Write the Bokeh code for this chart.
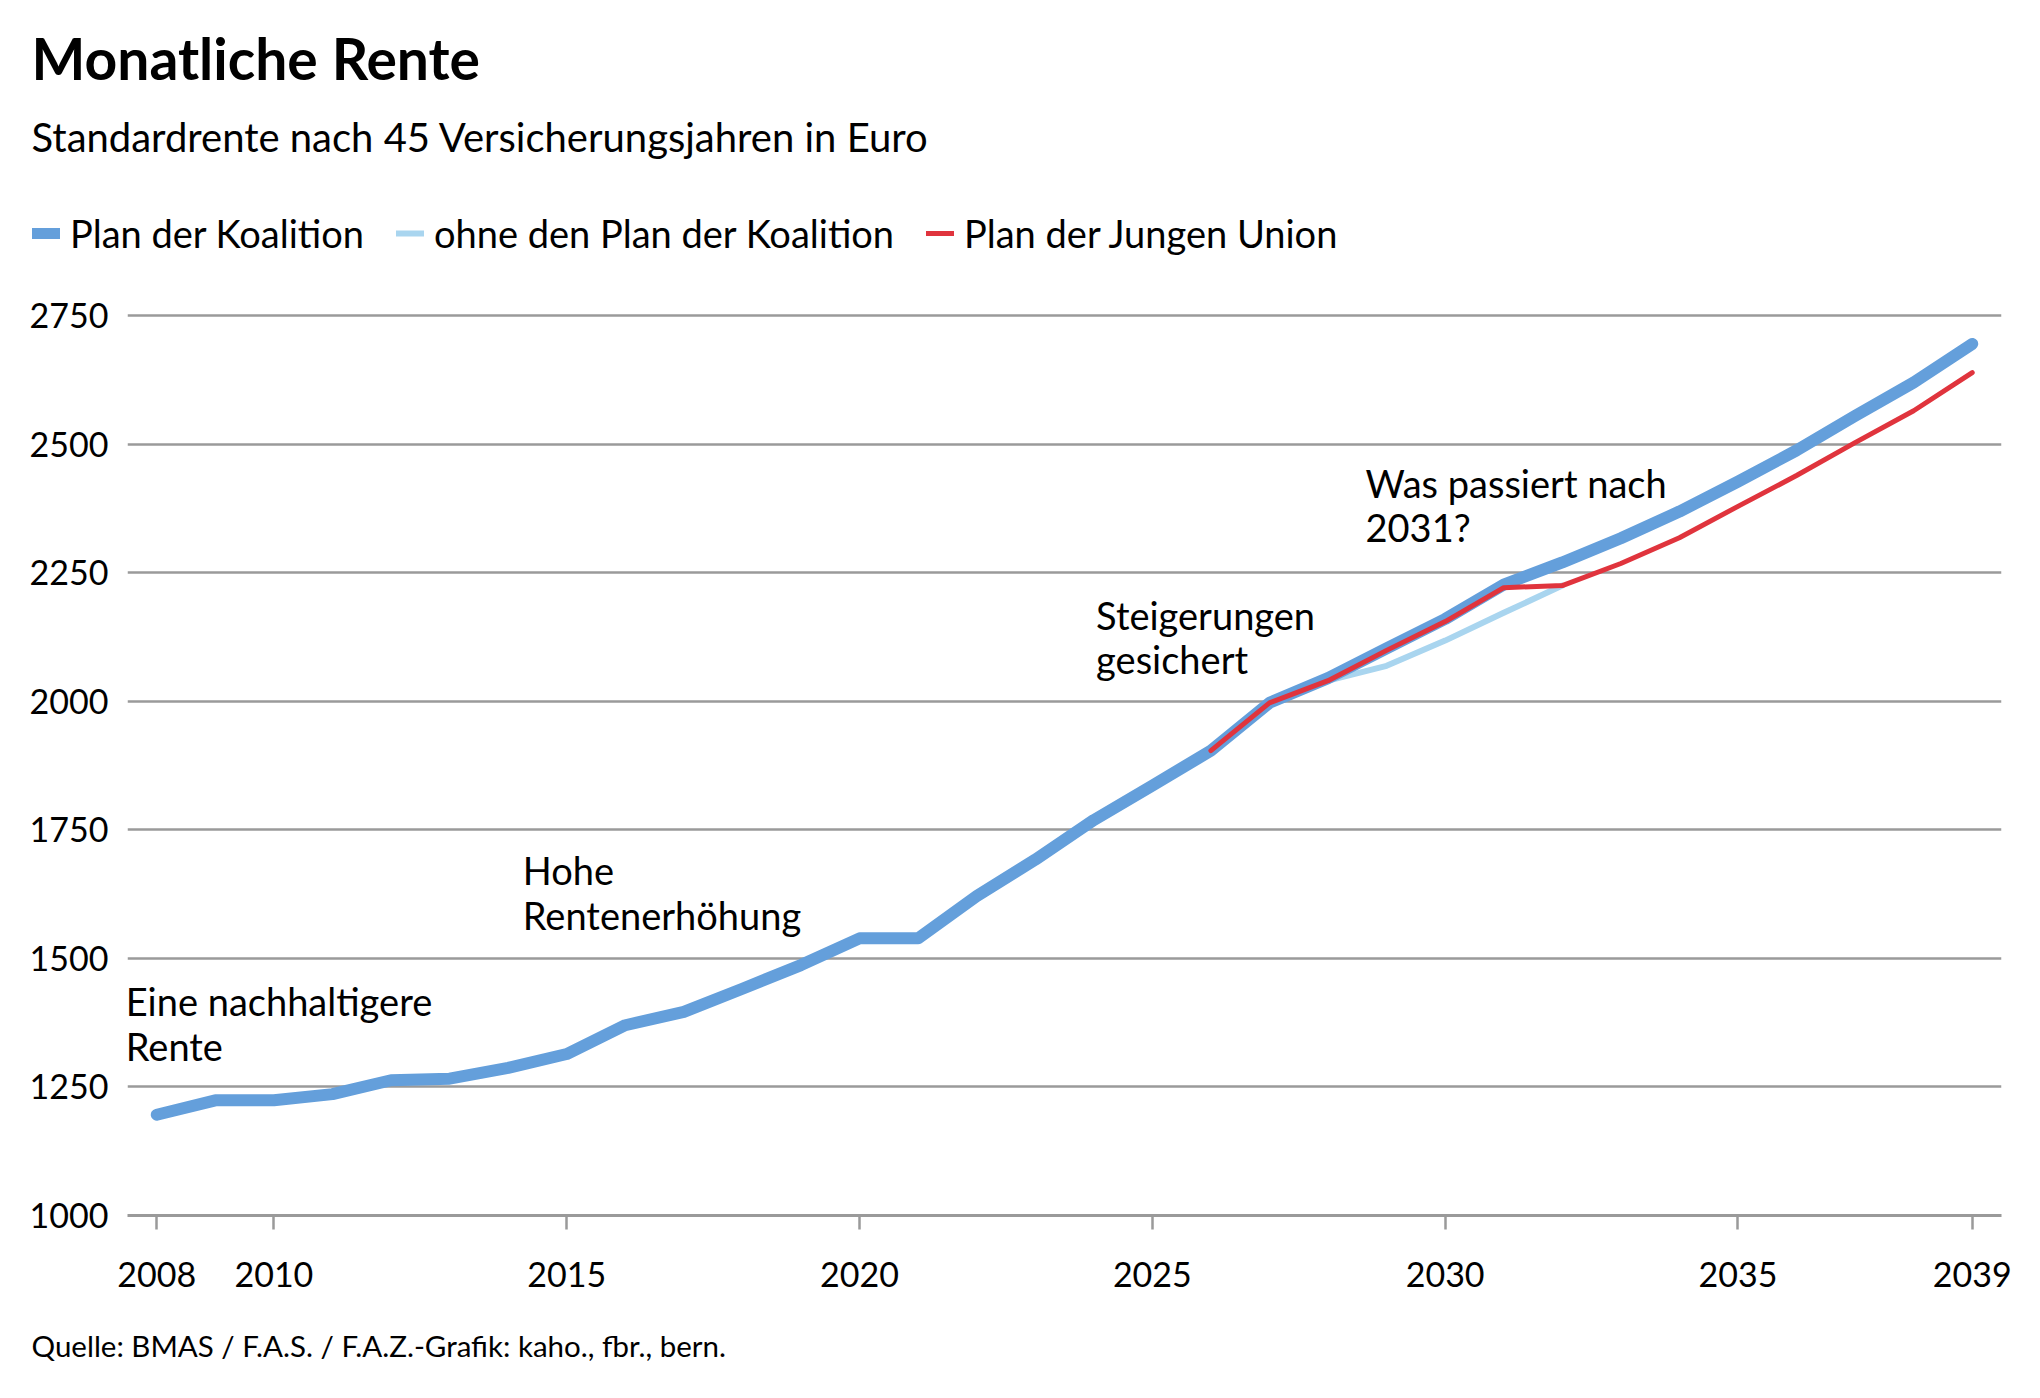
from bokeh.plotting import figure
from bokeh.models import Range1d, FixedTicker, Legend, LegendItem, ColumnDataSource, Label
from bokeh.embed import file_html
from bokeh.resources import INLINE
from bokeh.core.properties import value

# ---- data ----
years = list(range(2008, 2040))
plan_koalition = [1196, 1224, 1224, 1236, 1263, 1266, 1287, 1314, 1370, 1396,
                  1441, 1487, 1539, 1539, 1621, 1692, 1769, 1836, 1904, 1997,
                  2045, 2103, 2160, 2227, 2270, 2317, 2369, 2427, 2488, 2555,
                  2620, 2695]
ohne_years = list(range(2026, 2033))
ohne_plan = [1904, 1997, 2040, 2069, 2118, 2172, 2225]
ju_years = list(range(2026, 2040))
plan_junge_union = [1904, 1997, 2040, 2099, 2155, 2221, 2225, 2268, 2318, 2379,
                    2439, 2503, 2565, 2639]

x_ticks = [2008, 2010, 2015, 2020, 2025, 2030, 2035, 2039]
y_ticks = [1000, 1250, 1500, 1750, 2000, 2250, 2500, 2750]

note_text = ["Eine nachhaltigere", "Rente",
             "Hohe", "Rentenerhöhung",
             "Steigerungen", "gesichert",
             "Was passiert nach", "2031?"]
note_x = [2007.47, 2007.47, 2014.25, 2014.25, 2024.04, 2024.04, 2028.64, 2028.64]
note_y = [1418, 1330, 1672, 1585, 2168, 2083, 2425, 2339]

title_text = "Monatliche Rente"
subtitle_text = "Standardrente nach 45 Versicherungsjahren in Euro"
source_text = "Quelle: BMAS / F.A.S. / F.A.Z.-Grafik: kaho., fbr., bern."
legend_labels = ["Plan der Koalition", "ohne den Plan der Koalition", "Plan der Jungen Union"]

BLUE = "#649fdb"
LIGHT = "#a9d5ef"
RED = "#e0343d"
GRID = "#9a9a9a"
FONT = "Lato"
W = 2024
HEAD_H, MAIN_H, FOOT_H = 270, 1040, 72


def blank(h):
    f = figure(width=W, height=h, output_backend="svg", toolbar_location=None,
               x_range=Range1d(0, W), y_range=Range1d(h, 0),
               x_axis_location=None, y_axis_location=None, min_border=0,
               outline_line_color=None, background_fill_color="white",
               border_fill_color="white")
    f.grid.visible = False
    return f


# ---- header: title, subtitle, legend ----
head = blank(HEAD_H)
head.add_layout(Label(x=31, y=57, text=title_text, text_font=FONT,
                      text_font_style="bold", text_font_size="57px",
                      text_color="black", text_baseline="alphabetic"))
head.add_layout(Label(x=31, y=136, text=subtitle_text, text_font=FONT,
                      text_font_size="40px", text_color="black",
                      text_baseline="alphabetic"))
proxy = ColumnDataSource(dict(x=[float("nan")], y=[float("nan")]))
lg_blue = head.line("x", "y", source=proxy, line_color=BLUE, line_width=11, line_cap="round")
lg_light = head.line("x", "y", source=proxy, line_color=LIGHT, line_width=6, line_cap="round")
lg_red = head.line("x", "y", source=proxy, line_color=RED, line_width=5, line_cap="round")
legend = Legend(items=[LegendItem(label=legend_labels[0], renderers=[lg_blue]),
                       LegendItem(label=legend_labels[1], renderers=[lg_light]),
                       LegendItem(label=legend_labels[2], renderers=[lg_red])],
                orientation="horizontal", location=(32, 14),
                glyph_width=28, glyph_height=40, label_height=40,
                label_standoff=10, spacing=32,
                padding=0, margin=0, border_line_color=None,
                background_fill_alpha=0, label_text_font=FONT,
                label_text_font_size="38px", label_text_color="black")
head.add_layout(legend, "center")

# ---- main chart ----
p = figure(width=W, height=MAIN_H, output_backend="svg", toolbar_location=None,
           x_range=Range1d(2007.5, 2039.5), y_range=Range1d(1000, 2758),
           min_border_left=127, min_border_right=23, min_border_top=41,
           min_border_bottom=95, background_fill_color="white",
           border_fill_color="white", outline_line_color=None)

p.xgrid.grid_line_color = None
p.ygrid.ticker = FixedTicker(ticks=y_ticks)
p.ygrid.grid_line_color = GRID
p.ygrid.grid_line_width = 2.7

p.xaxis.ticker = FixedTicker(ticks=x_ticks)
p.xaxis.axis_line_color = GRID
p.xaxis.axis_line_width = 3
p.xaxis.major_tick_line_color = GRID
p.xaxis.major_tick_line_width = 2.5
p.xaxis.major_tick_out = 14
p.xaxis.major_tick_in = 0
p.xaxis.minor_tick_line_color = None
p.xaxis.major_label_standoff = 32
p.xaxis.major_label_text_font = FONT
p.xaxis.major_label_text_font_size = "34px"
p.xaxis.major_label_text_color = "black"

p.yaxis.ticker = FixedTicker(ticks=y_ticks)
p.yaxis.axis_line_color = None
p.yaxis.major_tick_line_color = None
p.yaxis.minor_tick_line_color = None
p.yaxis.major_label_standoff = 13
p.yaxis.major_label_text_font = FONT
p.yaxis.major_label_text_font_size = "34px"
p.yaxis.major_label_text_color = "black"

p.line(ohne_years, ohne_plan, line_color=LIGHT, line_width=6,
       line_cap="round", line_join="round")
p.line(years, plan_koalition, line_color=BLUE, line_width=12,
       line_cap="round", line_join="round")
p.line(ju_years, plan_junge_union, line_color=RED, line_width=5,
       line_cap="round", line_join="round")

notes = ColumnDataSource(dict(x=note_x, y=note_y, t=note_text))
p.text(x="x", y="y", text="t", source=notes, text_font=value(FONT),
       text_font_size="38px", text_color="black", text_baseline="alphabetic",
       text_align="left")

# ---- footer: source ----
foot = blank(FOOT_H)
foot.add_layout(Label(x=31, y=35, text=source_text, text_font=FONT,
                      text_font_size="29.5px", text_color="black",
                      text_baseline="alphabetic"))

open("out.html", "w").write(file_html([head, p, foot], INLINE))
